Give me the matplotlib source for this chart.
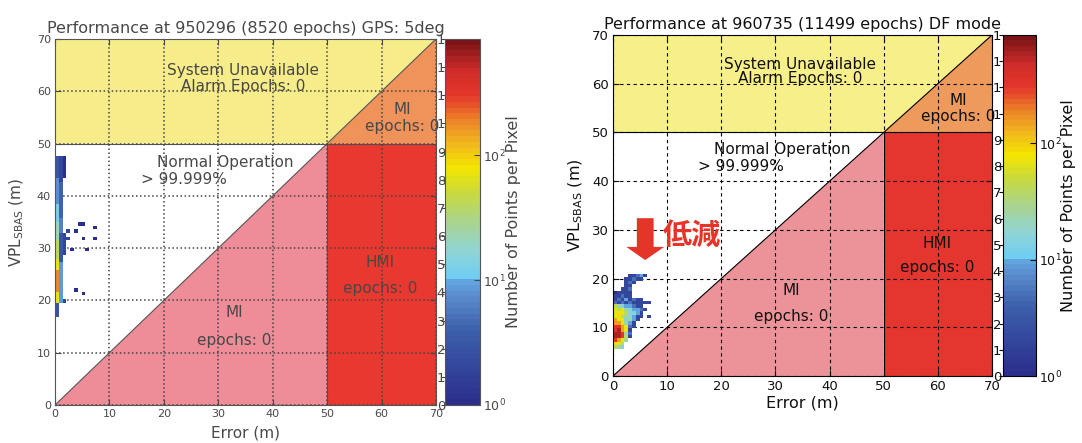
import numpy as np
import matplotlib
matplotlib.use('Agg')
import matplotlib.pyplot as plt
from matplotlib.colors import LinearSegmentedColormap, LogNorm
from matplotlib.patches import Polygon

W, H = 1082, 443

titles = ['Performance at 950296 (8520 epochs) GPS: 5deg',
          'Performance at 960735 (11499 epochs) DF mode']
axis_ticks = [0, 10, 20, 30, 40, 50, 60, 70]
lim = 70
val = 50
cell = 0.7
vmin, vmax = 1, 850
cb_ticks = [1, 10, 100]
ghost_ticks = list(range(14))
ghost_labels = ['0', '1', '2', '3', '4', '5', '6', '7', '8', '9', '1', '1', '1', '1']

region_text = [('System Unavailable', 34.6, 63.9), ('Alarm Epochs: 0', 34.6, 61.0),
               ('MI', 63.8, 56.6), ('epochs: 0', 63.8, 53.3),
               ('Normal Operation', 31.3, 46.4), ('> 99.999%', 23.6, 43.1),
               ('HMI', 59.8, 27.2), ('epochs: 0', 59.8, 22.3),
               ('MI', 33.0, 17.6), ('epochs: 0', 33.0, 12.3)]

# GPS 5deg: runs of pixels (col, row_from, row_to, count)
gps_runs = [(0, 24, 27, 3), (0, 28, 30, 70), (0, 31, 36, 180), (0, 37, 39, 70),
            (1, 28, 38, 9), (0, 40, 44, 40), (1, 39, 46, 3), (2, 41, 46, 2),
            (0, 45, 49, 22), (1, 47, 50, 6), (0, 50, 54, 12), (1, 51, 60, 4),
            (0, 55, 61, 8), (0, 62, 67, 3), (1, 61, 67, 2), (2, 62, 67, 1)]
gps_pts_x = [4.2, 4.9, 7.3, 2.6, 3.6, 5.2, 7.1, 2.0, 3.4, 6.0, 3.9, 5.0, 1.7, 2.6]
gps_pts_y = [34.9, 34.9, 34.1, 33.5, 32.9, 32.1, 32.1, 30.0, 30.0, 30.0, 22.3, 21.0, 20.2, 31.5]
gps_pts_n = [1, 1, 1, 2, 1, 1, 1, 2, 1, 1, 1, 1, 2, 2]

# DF mode: pixel counts, rows from y-row 8 upward, columns from x-col 0
df_row0 = 8
df_grid = [
    [40, 25, 15, 0, 0, 0, 0, 0, 0, 0],
    [70, 70, 40, 0, 0, 0, 0, 0, 0, 0],
    [300, 150, 70, 25, 0, 0, 0, 0, 0, 0],
    [600, 600, 300, 40, 2, 0, 0, 0, 0, 0],
    [600, 600, 300, 25, 5, 0, 0, 0, 0, 0],
    [300, 600, 150, 70, 2, 0, 0, 0, 0, 0],
    [300, 300, 150, 70, 5, 2, 0, 0, 0, 0],
    [150, 150, 70, 25, 10, 2, 0, 0, 0, 0],
    [150, 70, 70, 15, 25, 10, 2, 0, 0, 0],
    [70, 70, 40, 25, 15, 10, 2, 2, 0, 2],
    [70, 70, 70, 40, 15, 15, 10, 2, 0, 0],
    [70, 40, 70, 25, 15, 10, 10, 5, 2, 0],
    [40, 25, 15, 10, 10, 5, 2, 2, 0, 0],
    [5, 2, 5, 2, 5, 2, 2, 2, 2, 2],
    [2, 5, 2, 10, 2, 5, 2, 2, 0, 0],
    [2, 2, 5, 2, 2, 0, 0, 0, 0, 0],
    [1, 2, 2, 2, 2, 0, 0, 0, 0, 0],
    [0, 0, 2, 2, 5, 0, 0, 0, 0, 0],
    [0, 0, 0, 2, 2, 0, 0, 0, 0, 0],
    [0, 0, 0, 2, 5, 2, 0, 0, 0, 0],
    [0, 0, 0, 2, 2, 5, 2, 2, 0, 0],
    [0, 0, 0, 0, 2, 2, 5, 10, 2, 0],
]

cmap = LinearSegmentedColormap.from_list('pix', [
    (0.0, '#2a2e8c'), (0.1, '#34479d'), (0.2, '#3d5fab'), (0.3, '#5b8fcf'),
    (0.335, '#60a6e0'), (0.345, '#6fcdf3'), (0.42, '#90d5d6'), (0.5, '#a9d48e'),
    (0.58, '#c8da3e'), (0.65, '#f3e600'), (0.72, '#f2b51f'), (0.78, '#ec8528'),
    (0.85, '#e5372a'), (0.92, '#cf2b2a'), (1.0, '#7a1416')], N=64)

edges = np.arange(0, lim + cell / 2, cell)
n = len(edges) - 1

gps = np.zeros((n, n))
for c, r0, r1, v in gps_runs:
    gps[r0:r1 + 1, c] = v
for x, y, v in zip(gps_pts_x, gps_pts_y, gps_pts_n):
    gps[int(y / cell), int(x / cell)] = v

df = np.zeros((n, n))
for i, row in enumerate(df_grid):
    df[df_row0 + i, :len(row)] = row

styles = [
    dict(yellow='#f6ec8a', orange='#f0935b', red='#e8382f', pink='#ee8c97',
         txt='#484848', edge='#555555', grid=dict(ls=':', lw=1.1, color='#444444'),
         tick=8, lab=11, title=11.5),
    dict(yellow='#f7ef8a', orange='#ee9a5c', red='#e5352f', pink='#ec9399',
         txt='#111111', edge='#000000', grid=dict(ls=(0, (3, 3)), lw=0.8, color='#000000'),
         tick=9.5, lab=11.5, title=11.5),
]
ax_px = [(55, 38, 381, 366), (613, 67, 379, 341)]
cax_px = [(445, 38, 35, 366), (1003, 67, 33, 341)]

fig = plt.figure(figsize=(W / 100, H / 100), dpi=100)
fig.patch.set_facecolor('white')

for k, counts in enumerate([gps, df]):
    s = styles[k]
    x0, y0, w, h = ax_px[k]
    ax = fig.add_axes([x0 / W, y0 / H, w / W, h / H])
    ax.set_xlim(0, lim)
    ax.set_ylim(0, lim)
    ax.add_patch(Polygon([(0, val), (val, val), (lim, lim), (0, lim)], closed=True,
                         fc=s['yellow'], ec='none', zorder=1))
    ax.add_patch(Polygon([(val, val), (lim, val), (lim, lim)], closed=True,
                         fc=s['orange'], ec='none', zorder=1))
    ax.add_patch(Polygon([(val, 0), (lim, 0), (lim, val), (val, val)], closed=True,
                         fc=s['red'], ec='none', zorder=1))
    ax.add_patch(Polygon([(0, 0), (val, val), (val, 0)], closed=True,
                         fc=s['pink'], ec='none', zorder=1))
    ax.plot([0, lim], [0, lim], color=s['edge'], lw=0.8, zorder=2)
    ax.plot([0, lim], [val, val], color=s['edge'], lw=0.8, zorder=2)
    ax.plot([val, val], [0, val], color=s['edge'], lw=0.8, zorder=2)
    ax.set_axisbelow(False)
    ax.grid(True, **s['grid'])
    ax.set_xticks(axis_ticks)
    ax.set_yticks(axis_ticks)
    ax.tick_params(direction='in', top=True, right=True, length=4, labelsize=s['tick'],
                   colors=s['txt'], pad=3)
    for sp in ax.spines.values():
        sp.set_color(s['edge'])
        sp.set_zorder(5)
    pcm = ax.pcolormesh(edges, edges, np.ma.masked_equal(counts, 0), cmap=cmap,
                        norm=LogNorm(vmin, vmax), zorder=3)
    for t, x, y in region_text:
        ax.text(x, y, t, ha='center', va='center', fontsize=11, color=s['txt'], zorder=4)
    ax.set_title(titles[k], fontsize=s['title'], color=s['txt'], pad=4)
    ax.set_xlabel('Error (m)', fontsize=s['lab'], color=s['txt'])
    ax.set_ylabel(r'VPL$_{\mathrm{SBAS}}$ (m)', fontsize=s['lab'], color=s['txt'])
    ax.xaxis.label.set_va('center')
    ax.yaxis.label.set_va('center')
    if k == 0:
        ax.xaxis.set_label_coords(0.5, -0.077)
        ax.yaxis.set_label_coords(-0.10, 0.5)
    else:
        ax.xaxis.set_label_coords(0.5, -0.079)
        ax.yaxis.set_label_coords(-0.098, 0.5)

    if k == 1:
        ax.arrow(5.95, 32.4, 0, -8.6, width=3.1, head_width=7.0, head_length=2.7,
                 length_includes_head=True, fc='#e53528', ec='none', zorder=6)
        ax.text(14.6, 29.0, '低減', ha='center', va='center', fontsize=21,
                fontweight='bold', color='#e53528', zorder=6,
                family=['Noto Sans CJK JP', 'DejaVu Sans'])

    cx, cy, cw, ch = cax_px[k]
    ghost = fig.add_axes([cx / W, cy / H, cw / W, ch / H])
    ghost.set_ylim(0, 13)
    ghost.patch.set_visible(False)
    for sp in ghost.spines.values():
        sp.set_visible(False)
    ghost.set_xticks([])
    ghost.set_yticks(ghost_ticks)
    ghost.set_yticklabels(ghost_labels)
    ghost.tick_params(axis='y', direction='out', length=3, labelsize=9.5,
                      colors=s['txt'], pad=4.3 if k == 1 else 3.0)
    for lb in ghost.get_yticklabels():
        lb.set_horizontalalignment('left')

    cax = fig.add_axes([cx / W, cy / H, cw / W, ch / H])
    cb = fig.colorbar(pcm, cax=cax, ticks=cb_ticks)
    cb.outline.set_edgecolor(s['edge'])
    cax.minorticks_off()
    cax.tick_params(direction='in', length=4, labelsize=9, colors=s['txt'], pad=2)
    cb.set_label('Number of Points per Pixel', fontsize=11.5, color=s['txt'])
    cax.yaxis.label.set_va('center')
    cax.yaxis.set_label_coords(1.97 if k == 0 else 2.0, 0.5)

fig.savefig('out.png', dpi=100, facecolor='white')
